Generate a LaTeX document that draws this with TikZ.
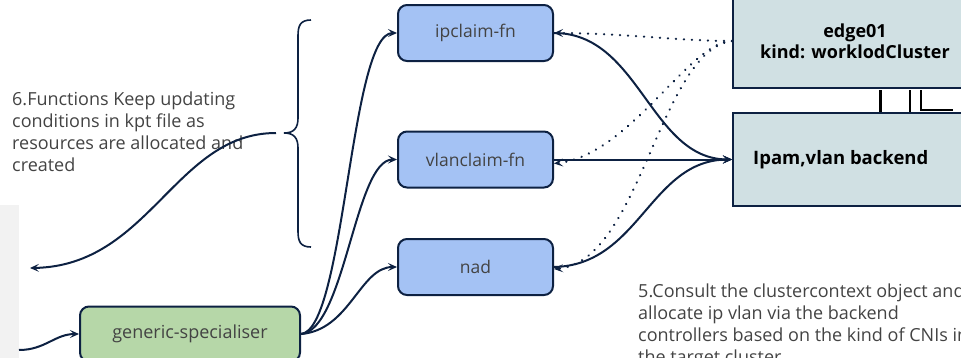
\documentclass[tikz,border=0pt]{standalone}
\usepackage{fontspec}
\setmainfont{Open Sans}
\usetikzlibrary{arrows.meta}
\definecolor{ink}{HTML}{0D2142}
\definecolor{txtgray}{HTML}{434343}
\definecolor{fnblue}{HTML}{A4C2F4}
\definecolor{specgreen}{HTML}{B6D7A8}
\definecolor{clusterfill}{HTML}{D0E0E3}
\definecolor{panelgray}{HTML}{F2F2F2}
\tikzset{
  fnbox/.style={draw=ink, line width=2pt, rounded corners=9pt, fill=fnblue,
    minimum width=155pt, minimum height=56pt, inner sep=0pt,
    text=txtgray, font=\fontsize{17.5}{20}\selectfont},
  clusterbox/.style={draw=ink, line width=2pt, fill=clusterfill,
    minimum width=244pt, minimum height=93pt, inner sep=0pt,
    font=\fontsize{18}{21}\selectfont\bfseries, text=black},
  note/.style={text=txtgray, align=left, inner sep=0pt,
    font=\fontsize{18}{22}\selectfont},
  link/.style={draw=ink, line width=2pt, -{Stealth[length=9pt,width=8pt,inset=4pt]}},
  dotlink/.style={draw=ink, line width=2.5pt, line cap=round,
    dash pattern=on 0.01pt off 8pt, -{Stealth[length=9pt,width=8pt,inset=4pt,line cap=butt,line width=2pt]}},
}
\begin{document}
\begin{tikzpicture}[x=1pt,y=-1pt]
\useasboundingbox (0,0) rectangle (961,357);
\clip (0,0) rectangle (961,357);

% side panel on the left
\fill[panelgray] (0,205) rectangle (19,362);

% strokes between the two cluster boxes
\draw[black, line width=3pt] (880,90) -- (880,115);
\draw[black, line width=2.2pt] (910,90) -- (910,115);
\draw[black, line width=2.2pt] (921,90) -- (921,110) -- (953,110);

% boxes
\node[fnbox] (ipc) at (475.5,33) {ipclaim-fn};
\node[fnbox] (vlan) at (475.5,159.5) {vlanclaim-fn};
\node[fnbox] (nad) at (475.5,267) {nad};
\node[fnbox, fill=specgreen, minimum width=220pt, minimum height=55pt, font=\fontsize{18}{20}\selectfont] (gs) at (190,334) {generic-specialiser};
\node[clusterbox, align=center] (edge) at (855,41) {edge01\\kind: worklodCluster};
\node[clusterbox] (ipam) at (855,159.5) {};
\node[anchor=west, inner sep=0pt, font=\fontsize{18.5}{21}\selectfont\bfseries] (ipamtxt) at (753,159.5) {Ipam,vlan backend};

% notes
\node[note, anchor=north west] (note6) at (12,92)
  {6.Functions Keep updating\\conditions in kpt file as\\resources are allocated and\\created};
\node[note, anchor=north west] (note5) at (638,284)
  {5.Consult the clustercontext object and\\allocate ip vlan via the backend\\controllers based on the kind of CNIs in\\the target cluster};

% brace grouping the three functions
\draw[ink, line width=1.6pt] (311,20) .. controls (300,20) and (298,26) .. (298,36)
  -- (298,118) .. controls (298,128) and (294,133) .. (284,133)
  .. controls (294,133) and (298,138) .. (298,148)
  -- (298,231) .. controls (298,241) and (300,247) .. (311,247);
\coordinate (bracetip) at (276,133);
\coordinate (fb) at (30,268);
\draw[link] (bracetip) .. controls (175,133) and (150,266) .. (fb);

% feed into the specialiser
\coordinate (feed) at (19,350);
\draw[link] (feed) .. controls (45,350) and (55,334) .. (gs.west);

% specialiser to the functions
\draw[link] (gs.east) .. controls (345,330) and (350,33) .. (ipc.west);
\draw[link] (gs.east) .. controls (345,330) and (355,159.5) .. (vlan.west);
\draw[link] (gs.east) .. controls (350,330) and (360,267) .. (nad.west);

% functions to the backend
\draw[link] (ipc.east) .. controls (640,33) and (650,159.5) .. (ipam.west);
\draw[link] (vlan.east) -- (ipam.west);
\draw[link] (nad.east) .. controls (640,265) and (650,159.5) .. (ipam.west);

% cluster context lookups
\draw[dotlink] (edge.west) .. controls (680,41) and (620,33) .. (ipc.east);
\draw[dotlink] (edge.west) .. controls (690,41) and (630,155) .. ([yshift=-4pt]vlan.east);
\draw[dotlink] (edge.west) .. controls (660,50) and (640,262) .. ([yshift=-2pt]nad.east);
\end{tikzpicture}
\end{document}
